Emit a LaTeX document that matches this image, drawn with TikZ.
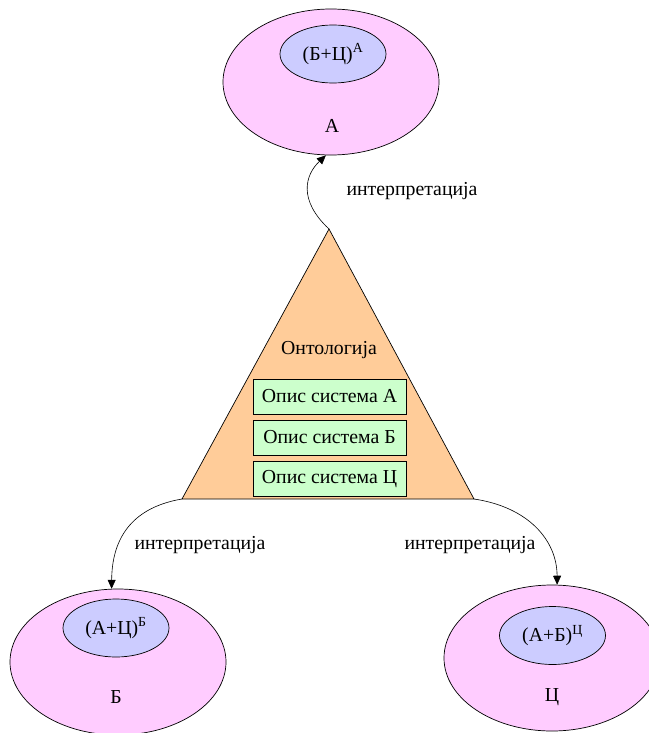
\documentclass[tikz,border=0pt]{standalone}
\usepackage{fontspec}
\setmainfont{Liberation Serif}
\usetikzlibrary{shapes.geometric,arrows.meta}
\definecolor{sysfill}{HTML}{FFCCFF}
\definecolor{viewfill}{HTML}{CCCCFF}
\definecolor{ontofill}{HTML}{FFCC99}
\definecolor{descfill}{HTML}{CCFFCC}
\tikzset{
  lbl/.style={font=\fontsize{19.8}{23}\selectfont, inner sep=0pt},
  system/.style={ellipse, draw, line width=0.7pt, fill=sysfill,
    minimum width=216pt, minimum height=146pt, inner sep=0pt},
  view/.style={ellipse, draw, line width=0.7pt, fill=viewfill,
    minimum width=106pt, minimum height=58pt, inner sep=0pt, lbl},
  desc/.style={rectangle, draw, line width=0.7pt, fill=descfill,
    minimum width=153pt, minimum height=35pt, inner sep=0pt, lbl},
  interp/.style={-{Triangle[length=9pt,width=8pt]}, line width=0.6pt}
}
\begin{document}
\begin{tikzpicture}[x=1pt,y=-1pt]
\useasboundingbox (0,0) rectangle (648,733);

% ontology triangle
\coordinate (apex) at (329,229);
\coordinate (baseL) at (182,499);
\coordinate (baseR) at (474,499);
\draw[fill=ontofill, line width=0.7pt] (apex) -- (baseR) -- (baseL) -- cycle;
\node[lbl] (onto) at (329,350) {Онтологија};
\node[desc] (descA) at (329.5,396.5) {Опис система А};
\node[desc] (descB) at (329.5,437.5) {Опис система Б};
\node[desc] (descC) at (329.5,479) {Опис система Ц};

% systems with their views of the others
\node[system] (sysA) at (331,82) {};
\node[view] (viewA) at (333,54) {(Б+Ц)\textsuperscript{А}};
\node[lbl] (nameA) at (332,126) {А};

\node[system] (sysB) at (118,662) {};
\node[view] (viewB) at (116,628) {(А+Ц)\textsuperscript{Б}};
\node[lbl] (nameB) at (116,697) {Б};

\node[system] (sysC) at (552,658) {};
\node[view] (viewC) at (552.5,635.5) {(А+Б)\textsuperscript{Ц}};
\node[lbl] (nameC) at (552,697) {Ц};

% interpretation arrows
\draw[interp] (apex) .. controls (298,200) and (305,175) .. (sysA.266);
\draw[interp] (baseL) .. controls (135,507) and (112,535) .. (sysB.95);
\draw[interp] (baseR) .. controls (528,507) and (557,540) .. (sysC.86);

\node[lbl] (intA) at (412,191) {интерпретација};
\node[lbl] (intB) at (200,545) {интерпретација};
\node[lbl] (intC) at (470,545) {интерпретација};
\end{tikzpicture}
\end{document}
